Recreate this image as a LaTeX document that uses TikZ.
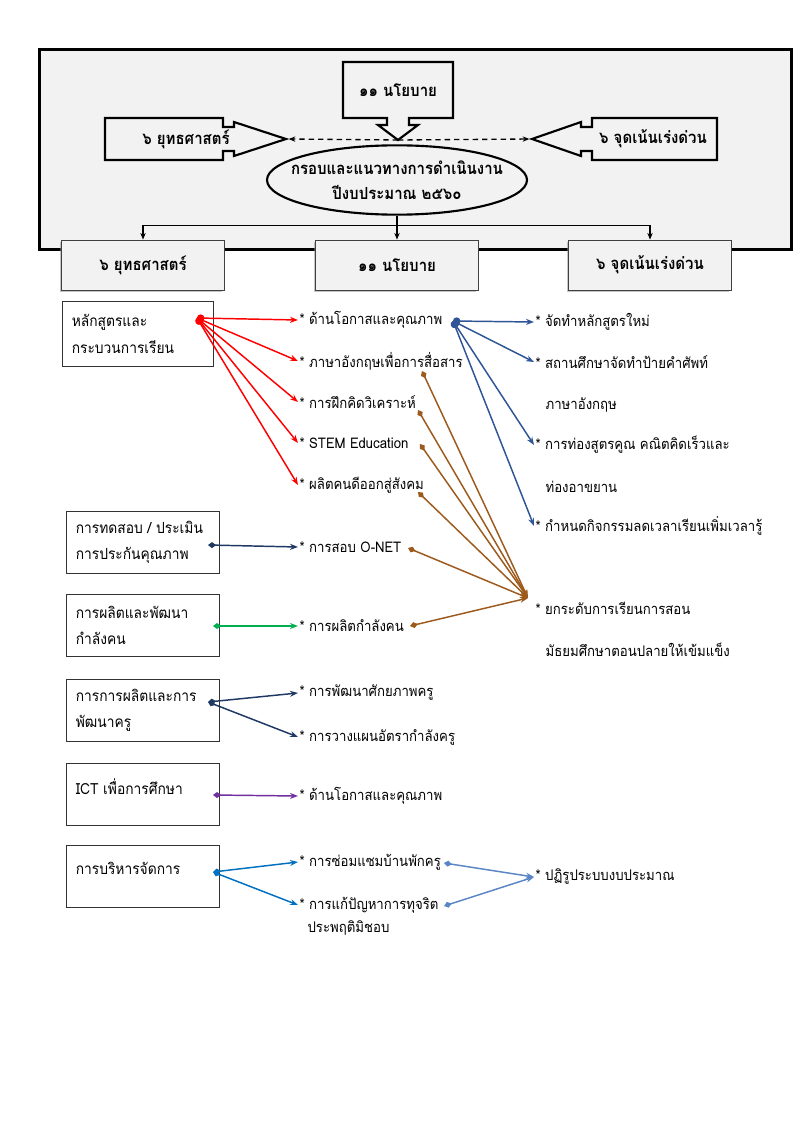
\documentclass[tikz,border=0pt]{standalone}
\usepackage{fontspec}
\newfontfamily\thai[Script=Thai,FakeStretch=0.9]{Loma}
\usetikzlibrary{arrows.meta,positioning,calc,shadows,shapes.geometric}

\definecolor{panel}{HTML}{F2F2F2}
\definecolor{navy}{HTML}{1F3864}
\definecolor{steel}{HTML}{2F5597}
\definecolor{rust}{HTML}{9C5A1C}
\definecolor{leaf}{HTML}{00B050}
\definecolor{plum}{HTML}{7030A0}
\definecolor{ocean}{HTML}{0070C0}
\definecolor{sky}{HTML}{5B86C6}

\begin{document}
\begin{tikzpicture}[x=0.75pt,y=-0.75pt,>={Stealth[length=5pt,width=4pt]}]
  \tikzstyle{outline}=[draw,line width=1.6pt,line join=miter]
  \tikzstyle{bigtext}=[font=\thai\bfseries\fontsize{12.5}{19}\selectfont]
  \tikzstyle{head}=[draw=black!75,fill=panel,line width=0.6pt,minimum width=122pt,minimum height=37.5pt,
    drop shadow={shadow xshift=-1.5pt,shadow yshift=-1.5pt,fill=black!45},bigtext]
  \tikzstyle{topic}=[draw=black!80,line width=0.7pt,anchor=north west,align=flush left,
    text width=101pt,inner xsep=7pt,minimum height=46.5pt,font=\thai\fontsize{11.5}{20}\selectfont]
  \tikzstyle{item}=[anchor=west,inner sep=1pt,font=\thai\fontsize{11}{14}\selectfont]
  \tikzstyle{fromdot}=[line width=1.1pt,{Circle[length=5.5pt]}-{Stealth[length=6pt,width=4.5pt]}]
  \tikzstyle{fromdia}=[line width=1.1pt,{Diamond[length=6pt,width=4.5pt]}-{Stealth[length=6pt,width=4.5pt]}]

  \useasboundingbox (0,0) rectangle (794,1123);
  \fill[white] (0,0) rectangle (794,1123);

  % framework panel
  \node[draw,line width=2pt,fill=panel,anchor=north west,minimum width=564pt,minimum height=150pt,inner sep=0pt] (panel) at (38,48) {};

  \node[bigtext] (pol) at (398,90) {๑๑ นโยบาย};
  \node[bigtext] (str) at (186,139) {๖ ยุทธศาสตร์};
  \node[bigtext] (foc) at (653,139) {๖ จุดเน้นเร่งด่วน};
  \node[draw,line width=1.6pt,ellipse,minimum width=195pt,minimum height=52pt,inner sep=0pt] (plan) at (397,180) {};
  \node[bigtext,align=center] (plantext) at (plan.center) {กรอบและแนวทางการดำเนินงาน\\ปีงบประมาณ ๒๕๖๐};

  % callout outlines
  \draw[outline,shift={(pol.center)}] (-55,-28) -- (55,-28) -- (55,28) -- (11,28) -- (11,35) -- (20,35)
    -- (0,50) coordinate (poltip) -- (-20,35) -- (-11,35) -- (-11,28) -- (-55,28) -- cycle;
  \draw[outline,shift={(str.center)}] (-81,-21) -- (37,-21) -- (37,-12) -- (48,-12) -- (48,-17)
    -- (100,0) coordinate (strtip) -- (48,17) -- (48,12) -- (37,12) -- (37,21) -- (-81,21) -- cycle;
  \draw[outline,shift={(foc.center)}] (64,-21) -- (-61,-21) -- (-61,-12) -- (-72,-12) -- (-72,-17)
    -- (-121,0) coordinate (foctip) -- (-72,17) -- (-72,12) -- (-61,12) -- (-61,21) -- (64,21) -- cycle;

  \draw[dashed,dash pattern=on 4pt off 3pt,line width=1pt,->,shorten >=2pt] (poltip) -- (strtip);
  \draw[dashed,dash pattern=on 4pt off 3pt,line width=1pt,->,shorten >=2pt] (poltip) -- (foctip);

  % three headings
  \node[head] (h1) at (143,265) {๖ ยุทธศาสตร์};
  \node[head] (h2) at (397,265) {๑๑ นโยบาย};
  \node[head] (h3) at (650,265) {๖ จุดเน้นเร่งด่วน};
  \draw[line width=1pt,->] (plan.south) -- (h2.north);
  \draw[line width=1pt,->] (plan.south) -- ++(0,10) -| (h1.north);
  \draw[line width=1pt,->] (plan.south) -- ++(0,10) -| (h3.north);

  % topics
  \node[topic,text width=99pt,minimum height=48.75pt] (b1) at (62,301) {หลักสูตรและ\\กระบวนการเรียน};
  \node[topic] (b2) at (66,511) {การทดสอบ / ประเมิน\\การประกันคุณภาพ};
  \node[topic] (b3) at (66,594) {การผลิตและพัฒนา\\กำลังคน};
  \node[topic] (b4) at (66,679) {การการผลิตและการ\\พัฒนาครู};
  \node[topic,text depth=12pt] (b5) at (66,763) {ICT เพื่อการศึกษา};
  \node[topic,text depth=12pt] (b6) at (66,845) {การบริหารจัดการ};

  % policies
  \node[item] (m1) at (298,320) {* ด้านโอกาสและคุณภาพ};
  \node[item] (m2) at (298,361) {* ภาษาอังกฤษเพื่อการสื่อสาร};
  \node[item] (m3) at (298,402) {* การฝึกคิดวิเคราะห์};
  \node[item] (m4) at (298,443) {* STEM Education};
  \node[item] (m5) at (298,485) {* ผลิตคนดีออกสู่สังคม};
  \node[item] (m6) at (298,547) {* การสอบ O-NET};
  \node[item] (m7) at (298,626) {* การผลิตกำลังคน};
  \node[item] (m8) at (298,693) {* การพัฒนาศักยภาพครู};
  \node[item] (m9) at (298,737) {* การวางแผนอัตรากำลังครู};
  \node[item] (m10) at (298,796) {* ด้านโอกาสและคุณภาพ};
  \node[item] (m11) at (298,862) {* การซ่อมแซมบ้านพักครู};
  \node[item] (m12) at (298,905) {* การแก้ปัญหาการทุจริต};
  \node[item] (m12b) at (306,928) {ประพฤติมิชอบ};

  % focus points
  \node[item] (r1) at (534,322) {* จัดทำหลักสูตรใหม่};
  \node[item] (r2) at (534,362) {* สถานศึกษาจัดทำป้ายคำศัพท์};
  \node[item] (r2b) at (544,405) {ภาษาอังกฤษ};
  \node[item] (r3) at (534,445) {* การท่องสูตรคูณ คณิตคิดเร็วและ};
  \node[item] (r3b) at (544,487) {ท่องอาขยาน};
  \node[item] (r4) at (534,526) {* กำหนดกิจกรรมลดเวลาเรียนเพิ่มเวลารู้};
  \node[item] (r5) at (534,608) {* ยกระดับการเรียนการสอน};
  \node[item] (r5b) at (544,650) {มัธยมศึกษาตอนปลายให้เข้มแข็ง};
  \node[item] (r6) at (534,877) {* ปฏิรูประบบงบประมาณ};

  % ports
  \coordinate (p1) at (197,318);
  \coordinate (p2) at (208,545);
  \coordinate (p3) at (213,626);
  \coordinate (p4) at (208,702);
  \coordinate (p5) at (213,795);
  \coordinate (p6) at (213,872);
  \coordinate (q1) at (453,321);
  \coordinate (s1) at (422,371);
  \coordinate (s2) at (418,410);
  \coordinate (s3) at (420,444);
  \coordinate (s4) at (418,492);
  \coordinate (s5) at (408,548);
  \coordinate (s6) at (410,626);
  \coordinate (hub) at (528,598);
  \coordinate (t1) at (444,863);
  \coordinate (t2) at (444,906);

  \path[fromdot,red] (p1) edge (m1.west) edge (m2.west) edge (m3.west) edge (m4.west) edge (m5.west);
  \path[fromdot,steel] (q1) edge (r1.west) edge (r2.west) edge (r3.west) edge (r4.west);
  \path[fromdia,rust] (s1) edge (hub) (s2) edge (hub) (s3) edge (hub)
    (s4) edge (hub) (s5) edge (hub) (s6) edge (hub);
  \path[fromdia,navy] (p2) edge (m6.west);
  \path[fromdia,leaf] (p3) edge (m7.west);
  \path[fromdia,navy] (p4) edge (m8.west) edge (m9.west);
  \path[fromdia,plum] (p5) edge (m10.west);
  \path[fromdia,ocean] (p6) edge (m11.west) edge (m12.west);
  \path[fromdia,sky] (t1) edge (r6.west) (t2) edge (r6.west);
\end{tikzpicture}
\end{document}
